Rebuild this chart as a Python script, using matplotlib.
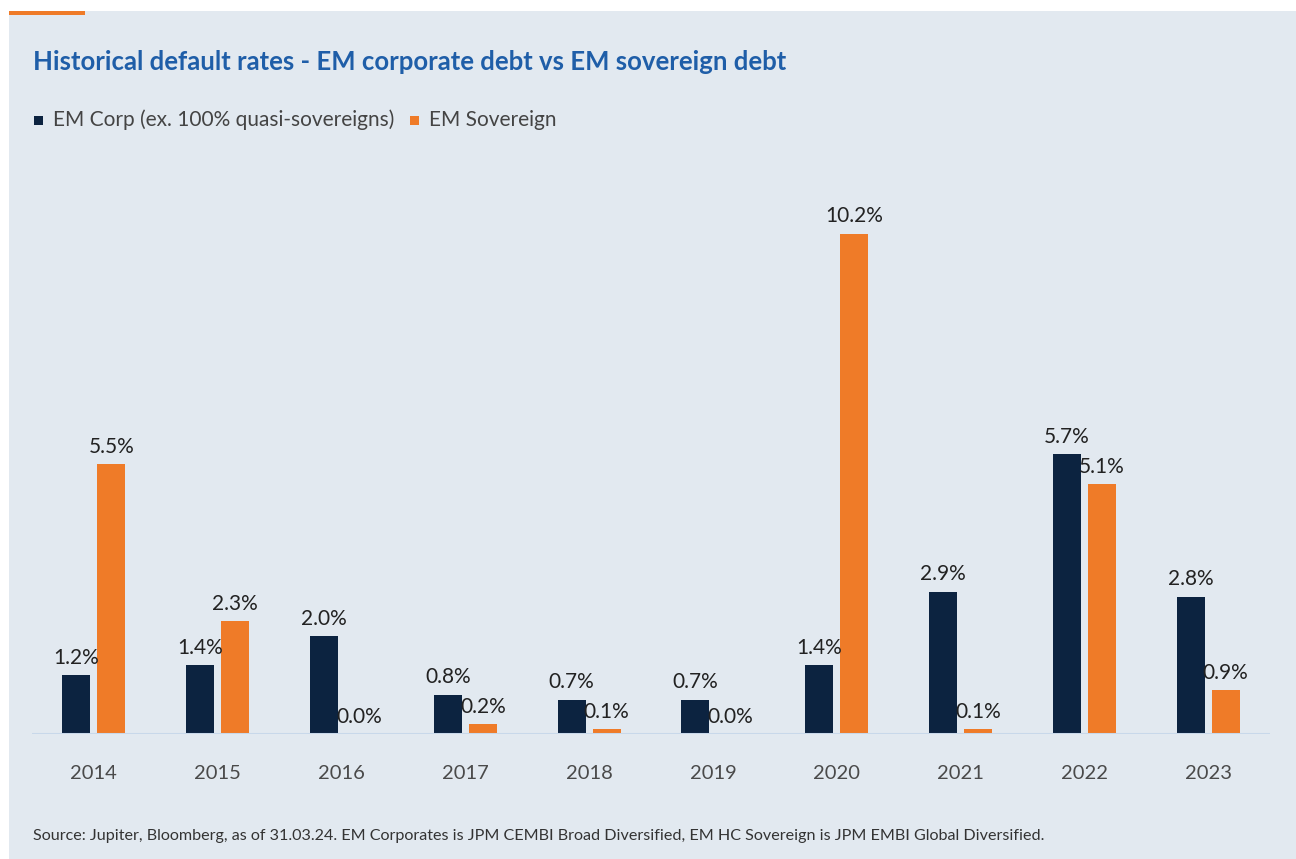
import matplotlib.pyplot as plt
import numpy as np
from matplotlib.patches import Rectangle

years = ['2014', '2015', '2016', '2017', '2018', '2019', '2020', '2021', '2022', '2023']
em_corp = [1.2, 1.4, 2.0, 0.8, 0.7, 0.7, 1.4, 2.9, 5.7, 2.8]
em_sov = [5.5, 2.3, 0.0, 0.2, 0.1, 0.0, 10.2, 0.1, 5.1, 0.9]

navy = '#0c2340'
orange = '#ef7b28'
panel = '#e2e9f0'
title_blue = '#1f5ea8'

plt.rcParams['font.family'] = ['Lato', 'DejaVu Sans']

fig = plt.figure(figsize=(12.96, 8.59), dpi=100)
fig.patch.set_facecolor('white')
W, H = 1296, 859

# background panel + orange accent
fig.patches.append(Rectangle((9 / W, 0), 1 - 9 / W, 1 - 11 / H, transform=fig.transFigure,
                             facecolor=panel, edgecolor='none', zorder=-10))
fig.patches.append(Rectangle((9 / W, 1 - 15 / H), 76 / W, 4 / H, transform=fig.transFigure,
                             facecolor=orange, edgecolor='none', zorder=-9))

ax = fig.add_axes([32 / W, 125 / H, 1238 / W, 564 / H])
ax.set_facecolor('none')
ax.set_zorder(5)

x = np.arange(len(years))
w = 0.226
off = 0.142
b1 = ax.bar(x - off, em_corp, w, color=navy, zorder=2)
b2 = ax.bar(x + off, em_sov, w, color=orange, zorder=2)

for bars, vals in ((b1, em_corp), (b2, em_sov)):
    for rect, v in zip(bars, vals):
        ax.text(rect.get_x() + rect.get_width() / 2, v + 0.15, f'{v:.1f}%',
                ha='center', va='bottom', fontsize=15, color='#222222')

ax.set_xlim(-0.5, 9.5)
ax.set_ylim(0, 11.5)
ax.axhline(0, color='#c8d8ea', lw=2.2, zorder=3)
ax.set_xticks(x)
ax.set_xticklabels(years, fontsize=14.5, color='#4a4a4a')
ax.tick_params(axis='x', length=0, pad=22)
ax.set_yticks([])
for s in ax.spines.values():
    s.set_visible(False)

fig.text(33 / W, 1 - 62 / H, 'Historical default rates - EM corporate debt vs EM sovereign debt',
         fontsize=18.5, fontweight='bold', color=title_blue, va='center')

# legend
fig.patches.append(Rectangle((34 / W, 1 - 125 / H), 9 / W, 9 / H, transform=fig.transFigure,
                             facecolor=navy, edgecolor='none'))
fig.text(53 / W, 1 - 120 / H, 'EM Corp (ex. 100% quasi-sovereigns)', fontsize=15,
         color='#444444', va='center')
fig.patches.append(Rectangle((410 / W, 1 - 125 / H), 9 / W, 9 / H, transform=fig.transFigure,
                             facecolor=orange, edgecolor='none'))
fig.text(429 / W, 1 - 120 / H, 'EM Sovereign', fontsize=15, color='#444444', va='center')

fig.text(33 / W, 1 - 836 / H,
         'Source: Jupiter, Bloomberg, as of 31.03.24. EM Corporates is JPM CEMBI Broad Diversified, '
         'EM HC Sovereign is JPM EMBI Global Diversified.',
         fontsize=11.6, color='#333333', va='center')

fig.savefig('out.png', dpi=100)
